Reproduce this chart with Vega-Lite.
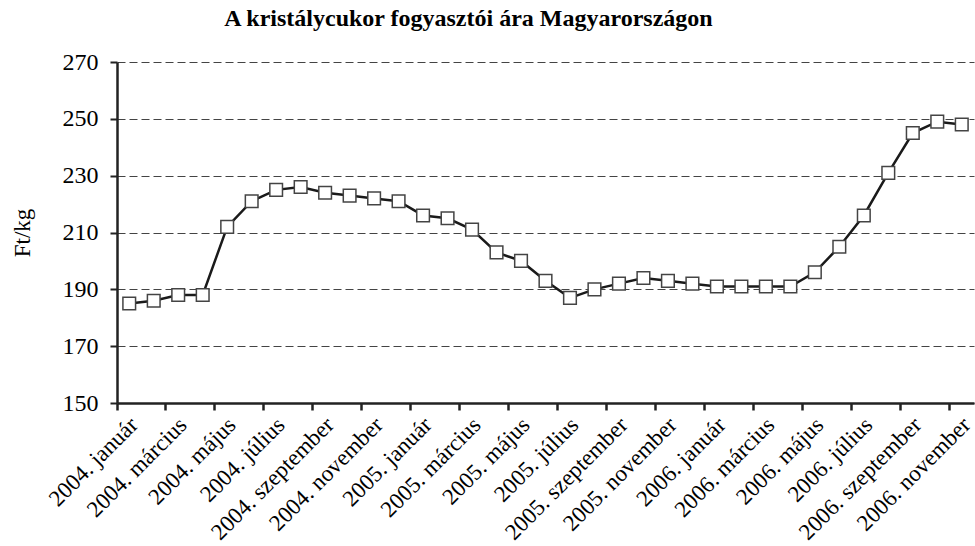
{
  "$schema": "https://vega.github.io/schema/vega-lite/v6.json",
  "autosize": "none",
  "width": 857,
  "height": 341,
  "padding": {"left": 117, "top": 62, "right": 1, "bottom": 143},
  "background": "white",
  "title": {
    "text": "A kristálycukor fogyasztói ára Magyarországon",
    "font": "Liberation Serif",
    "fontSize": 24,
    "fontWeight": "bold",
    "color": "black",
    "anchor": "middle",
    "offset": 19,
    "dx": -77
  },
  "config": {
    "view": {"stroke": null},
    "axis": {"labelFont": "Liberation Serif", "titleFont": "Liberation Serif", "labelColor": "black", "titleColor": "black"}
  },
  "data": {
    "values": [
      {"honap": "2004. január", "ar": 185},
      {"honap": "2004. február", "ar": 186},
      {"honap": "2004. március", "ar": 188},
      {"honap": "2004. április", "ar": 188},
      {"honap": "2004. május", "ar": 212},
      {"honap": "2004. június", "ar": 221},
      {"honap": "2004. július", "ar": 225},
      {"honap": "2004. augusztus", "ar": 226},
      {"honap": "2004. szeptember", "ar": 224},
      {"honap": "2004. október", "ar": 223},
      {"honap": "2004. november", "ar": 222},
      {"honap": "2004. december", "ar": 221},
      {"honap": "2005. január", "ar": 216},
      {"honap": "2005. február", "ar": 215},
      {"honap": "2005. március", "ar": 211},
      {"honap": "2005. április", "ar": 203},
      {"honap": "2005. május", "ar": 200},
      {"honap": "2005. június", "ar": 193},
      {"honap": "2005. július", "ar": 187},
      {"honap": "2005. augusztus", "ar": 190},
      {"honap": "2005. szeptember", "ar": 192},
      {"honap": "2005. október", "ar": 194},
      {"honap": "2005. november", "ar": 193},
      {"honap": "2005. december", "ar": 192},
      {"honap": "2006. január", "ar": 191},
      {"honap": "2006. február", "ar": 191},
      {"honap": "2006. március", "ar": 191},
      {"honap": "2006. április", "ar": 191},
      {"honap": "2006. május", "ar": 196},
      {"honap": "2006. június", "ar": 205},
      {"honap": "2006. július", "ar": 216},
      {"honap": "2006. augusztus", "ar": 231},
      {"honap": "2006. szeptember", "ar": 245},
      {"honap": "2006. október", "ar": 249},
      {"honap": "2006. november", "ar": 248}
    ]
  },
  "encoding": {
    "x": {
      "field": "honap",
      "type": "ordinal",
      "sort": null,
      "scale": {"type": "band", "paddingInner": 0, "paddingOuter": 0},
      "axis": {
        "title": null,
        "values": ["2004. január", "2004. március", "2004. május", "2004. július", "2004. szeptember", "2004. november", "2005. január", "2005. március", "2005. május", "2005. július", "2005. szeptember", "2005. november", "2006. január", "2006. március", "2006. május", "2006. július", "2006. szeptember", "2006. november"],
        "bandPosition": 0,
        "labelAngle": -45,
        "labelAlign": "right",
        "labelBaseline": "middle",
        "labelOffset": 5,
        "labelPadding": 11,
        "labelFontSize": 23,
        "labelOverlap": false,
        "labelBound": false,
        "domainColor": "#222",
        "domainWidth": 2.5,
        "tickColor": "#222",
        "tickWidth": 2.5,
        "tickSize": 7,
        "grid": false
      }
    },
    "y": {
      "field": "ar",
      "type": "quantitative",
      "scale": {"domain": [150, 270], "nice": false, "zero": false},
      "axis": {
        "title": "Ft/kg",
        "titleFontSize": 23,
        "titleFontWeight": "normal",
        "titlePadding": 28,
        "values": [150, 170, 190, 210, 230, 250, 270],
        "labelFontSize": 24,
        "labelPadding": 12,
        "domainColor": "#222",
        "domainWidth": 2.5,
        "tickColor": "#222",
        "tickWidth": 2,
        "tickSize": 7,
        "grid": true,
        "gridColor": "#444",
        "gridDash": [8, 4],
        "gridWidth": 1.2
      }
    }
  },
  "layer": [
    {"mark": {"type": "line", "color": "#1a1a1a", "strokeWidth": 2.5}},
    {"mark": {"type": "point", "shape": "square", "filled": true, "fill": "white", "stroke": "#444", "strokeWidth": 1.5, "size": 160, "opacity": 1}}
  ]
}
